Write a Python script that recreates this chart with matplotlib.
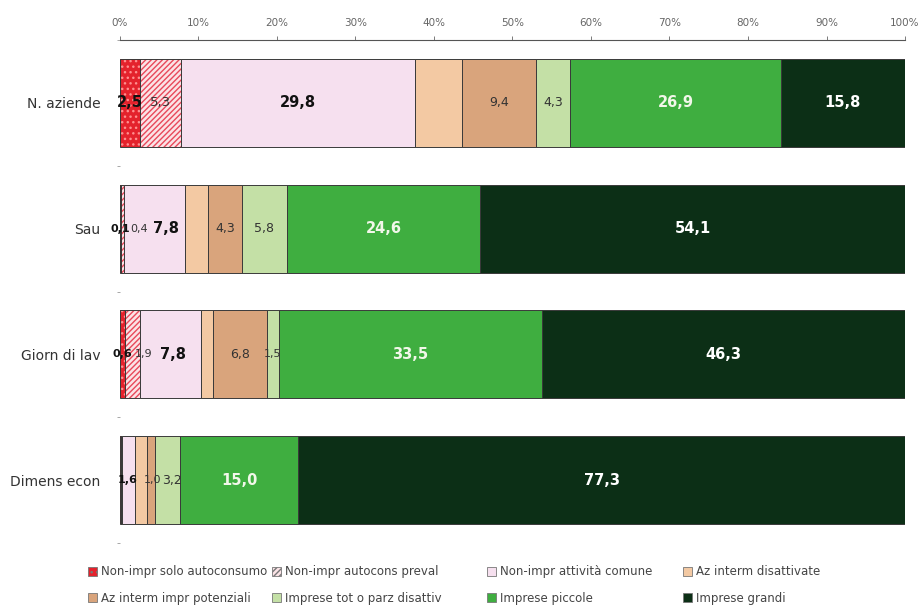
import numpy as np
import matplotlib
matplotlib.use("Agg")
import matplotlib.pyplot as plt
from matplotlib.patches import Patch

categories = ["N. aziende", "Sau", "Giorn di lav", "Dimens econ"]
series_names = [
    "Non-impr solo autoconsumo",
    "Non-impr autocons preval",
    "Non-impr attività comune",
    "Az interm disattivate",
    "Az interm impr potenziali",
    "Imprese tot o parz disattiv",
    "Imprese piccole",
    "Imprese grandi",
]
# percent values per series, one entry per category
solo_autoconsumo = [2.5, 0.1, 0.6, 0.1]
autocons_preval = [5.3, 0.4, 1.9, 0.2]
attivita_comune = [29.8, 7.8, 7.8, 1.6]
interm_disattivate = [6.0, 2.9, 1.6, 1.6]
interm_potenziali = [9.4, 4.3, 6.8, 1.0]
tot_parz_disattiv = [4.3, 5.8, 1.5, 3.2]
imprese_piccole = [26.9, 24.6, 33.5, 15.0]
imprese_grandi = [15.8, 54.1, 46.3, 77.3]
values = [solo_autoconsumo, autocons_preval, attivita_comune, interm_disattivate,
          interm_potenziali, tot_parz_disattiv, imprese_piccole, imprese_grandi]
# which data labels are visible in the original chart
show_label = [
    [True, True, True, False],
    [True, True, True, False],
    [True, True, True, True],
    [False, False, False, False],
    [True, True, True, True],
    [True, True, True, True],
    [True, True, True, True],
    [True, True, True, True],
]
# small nudges (points) for labels squeezed into thin segments
label_nudge = {(1, 1): 12, (2, 1): 8, (1, 2): 8, (2, 2): 2, (2, 3): -1, (4, 3): 1, (5, 3): 3}

colors = ["#e4222c", "#fbe3e6", "#f6e0ef", "#f3c9a3", "#d9a47c", "#c4e0a6", "#3fae40", "#0c2f16"]
hatches = ["...", "//////", None, None, None, None, None, None]
hatch_colors = ["#ff8f8f", "#e8485a", None, None, None, None, None, None]
label_colors = ["#111111", "#333333", "#111111", "#333333", "#333333", "#333333", "#f2f7ea", "#ffffff"]
label_weights = ["bold", "normal", "bold", "normal", "normal", "normal", "bold", "bold"]
label_sizes = [10.5, 9.5, 10.5, 9, 9, 9, 10.5, 10.5]

fig = plt.figure(figsize=(9.2, 6.07), dpi=100)
ax = fig.add_axes([0.1304, 0.1054, 0.8533, 0.8287])

y = np.arange(len(categories))
left = np.zeros(len(categories))
handles = []
for i, vals in enumerate(values):
    vals = np.array(vals)
    if hatches[i]:
        ax.barh(y, vals, left=left, height=0.70, color=colors[i], edgecolor=hatch_colors[i],
                hatch=hatches[i], linewidth=0, zorder=2)
    ax.barh(y, vals, left=left, height=0.70, color="none" if hatches[i] else colors[i],
            edgecolor="#3a3a3a", linewidth=0.7, zorder=3)
    for j, v in enumerate(vals):
        if not show_label[i][j]:
            continue
        size = label_sizes[i] if v >= 2 else 8
        ax.annotate(f"{v:.1f}".replace(".", ","), (left[j] + v / 2, y[j]),
                    xytext=(label_nudge.get((i, j), 0), 0), textcoords="offset points",
                    ha="center", va="center", color=label_colors[i],
                    fontweight=label_weights[i], fontsize=size, zorder=4)
    left += vals
    handles.append(Patch(facecolor=colors[i], edgecolor="#777777", hatch=hatches[i], linewidth=0.6))

ax.set_xlim(0, 100)
ax.set_ylim(3.5, -0.5)
ax.xaxis.tick_top()
ax.set_xticks(np.arange(0, 101, 10))
ax.set_xticklabels([f"{t}%" for t in range(0, 101, 10)])
ax.tick_params(axis="x", colors="#666666", labelsize=7.5, length=3, width=0.6, pad=6)
ax.set_yticks(y)
ax.set_yticklabels(categories)
ax.tick_params(axis="y", length=0, labelsize=10, labelcolor="#333333", pad=14)
ax.set_yticks(np.arange(-0.5, 4.0, 1.0), minor=True)
ax.tick_params(axis="y", which="minor", length=2, color="#999999")
for s in ["right", "bottom", "left"]:
    ax.spines[s].set_visible(False)
ax.spines["top"].set_color("#555555")
ax.spines["top"].set_linewidth(0.8)

# legend: 2 rows x 4 columns at fixed column positions
col_x = [88, 272, 487, 683]
for c, x0 in enumerate(col_x):
    leg = fig.legend([handles[c], handles[c + 4]], [series_names[c], series_names[c + 4]],
                     loc="center left", bbox_to_anchor=(x0 / 920, 1 - 585 / 607),
                     frameon=False, fontsize=8.5, labelcolor="#444444", handlelength=0.8,
                     handleheight=0.8, handletextpad=0.3, labelspacing=1.15,
                     borderpad=0, borderaxespad=0)

fig.savefig("out.png", dpi=100, facecolor="white")
